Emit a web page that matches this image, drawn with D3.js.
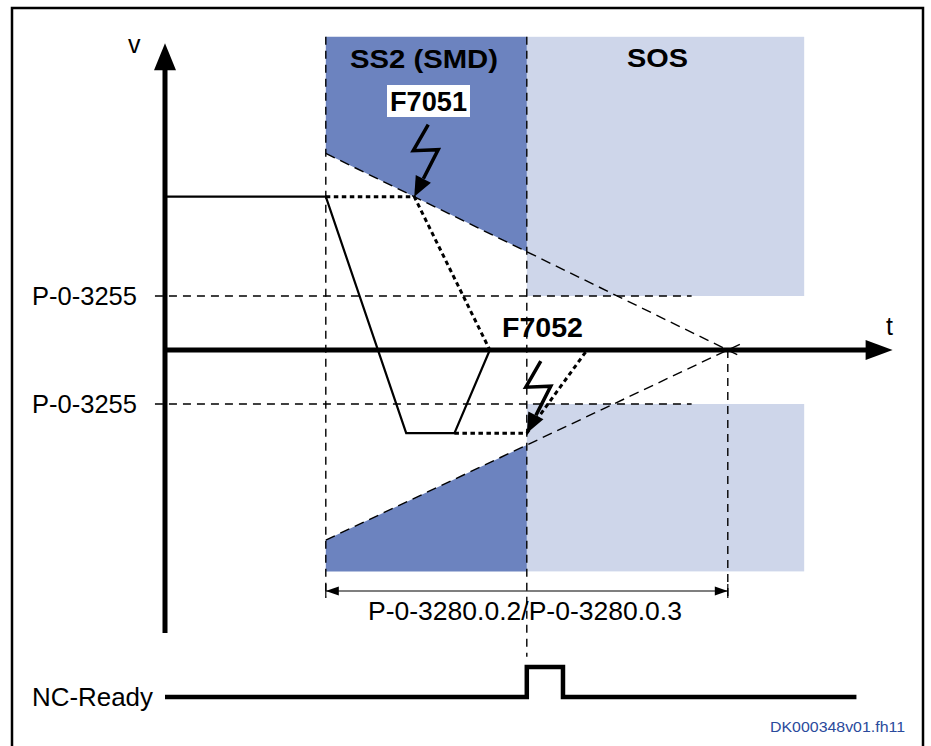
<!DOCTYPE html>
<html><head><meta charset="utf-8">
<script src="https://cdn.jsdelivr.net/npm/d3@7"></script>
<style>html,body{margin:0;padding:0;background:#fff;}svg{display:block;}</style>
</head><body>
<script>
// ---------- data (time units / velocity units) ----------
const phaseNames = ["SS2 (SMD)", "SOS"];
const phaseStart = [40, 90];
const phaseEnd = [90, 159];
const bandTopV = 290, bandBottomV = -205;
const thresholdLabels = ["P-0-3255", "P-0-3255"];
const thresholdV = [50, -50];
const thresholdT = [-2.5, 131];
const upperBand = [[40, 290], [90, 290], [90, 91], [40, 182]];
const lowerBand = [[40, -176], [90, -88], [90, -205], [40, -205]];
const upperEnvelope = [[40, 182], [143, -5.5]];
const lowerEnvelope = [[40, -176], [143, 5.3]];
const profile = [[0, 142], [40, 142], [60, -77], [72, -77], [80.8, 0]];
const expected1 = [[40, 142], [62, 142], [80.8, 0]];
const expected2 = [[72, -77], [90, -77], [105, 0]];
const faultNames = ["F7051", "F7052"];
const faultT = [62, 90];
const faultV = [142, -77];
const guideT = [40, 90, 140];
const guideFromV = [290, 290, 0];
const guideToV = [-229, -284, -229];
const dimT = [40, 140];
const dimLabel = "P-0-3280.0.2/P-0-3280.0.3";
const ncT = [0, 90, 90, 99, 99, 172];
const ncLevel = [0, 0, 1, 1, 0, 0];
const axisTMax = 181, axisVMax = 284, axisVMin = -262;

// ---------- layout ----------
const W = 931, H = 746;
const svg = d3.select("body").append("svg").attr("width", W).attr("height", H);
const x = d3.scaleLinear().domain([0, 180]).range([165, 165 + 180 * 4.02]);
const y = d3.scaleLinear().domain([-100, 100]).range([458, 242]);
const yNC = d3.scaleLinear().domain([0, 1]).range([697, 667]);
const DARK = "#6c83bf", LIGHT = "#ced6ea";
const FONT = "'Liberation Sans', Arial, Helvetica, sans-serif";
const line = d3.line().x(d => x(d[0])).y(d => y(d[1]));

// frame
svg.append("rect").attr("x", 12).attr("y", 8).attr("width", 911).attr("height", 780)
  .attr("fill", "none").attr("stroke", "#000").attr("stroke-width", 2.5);

// light SOS bands
[[thresholdV[0], bandTopV], [bandBottomV, thresholdV[1]]].forEach(([v0, v1]) => {
  svg.append("rect").attr("x", x(phaseStart[1])).attr("width", x(phaseEnd[1]) - x(phaseStart[1]))
    .attr("y", y(v1)).attr("height", y(v0) - y(v1)).attr("fill", LIGHT);
});
// dark SS2 polygons
[upperBand, lowerBand].forEach(p => {
  svg.append("path").attr("d", line(p) + "Z").attr("fill", DARK);
});

// thin dashed guides
const g = svg.append("g").attr("stroke", "#000").attr("stroke-width", 1.4).attr("fill", "none");
thresholdV.forEach(v => g.append("line").attr("x1", x(thresholdT[0])).attr("x2", x(thresholdT[1]))
  .attr("y1", y(v)).attr("y2", y(v)).attr("stroke-dasharray", "8,6"));
guideT.forEach((t, i) => g.append("line").attr("x1", x(t)).attr("x2", x(t))
  .attr("y1", y(guideFromV[i])).attr("y2", y(guideToV[i])).attr("stroke-dasharray", "8,6"));
[upperEnvelope, lowerEnvelope].forEach(p => g.append("path").attr("d", line(p)).attr("stroke-dasharray", "10,6"));

// speed profile
svg.append("path").attr("d", line(profile)).attr("fill", "none").attr("stroke", "#000")
  .attr("stroke-width", 2.2).attr("stroke-linejoin", "miter");
[expected1, expected2].forEach(p => svg.append("path").attr("d", line(p)).attr("fill", "none")
  .attr("stroke", "#000").attr("stroke-width", 3).attr("stroke-dasharray", "4.5,3.5"));

// axes
svg.append("line").attr("x1", x(0)).attr("x2", x(0)).attr("y1", y(axisVMin)).attr("y2", y(axisVMax) + 20)
  .attr("stroke", "#000").attr("stroke-width", 5);
svg.append("path").attr("d", `M${x(0)},${y(axisVMax)} L${x(0) - 11},${y(axisVMax) + 27} L${x(0) + 11},${y(axisVMax) + 27}Z`).attr("fill", "#000");
svg.append("line").attr("x1", x(0)).attr("x2", x(axisTMax) - 20).attr("y1", y(0)).attr("y2", y(0))
  .attr("stroke", "#000").attr("stroke-width", 5);
svg.append("path").attr("d", `M${x(axisTMax)},${y(0)} L${x(axisTMax) - 27},${y(0) - 10} L${x(axisTMax) - 27},${y(0) + 10}Z`).attr("fill", "#000");
svg.append("text").attr("x", 128).attr("y", 53).attr("font-family", FONT).attr("font-size", 25).text("v");
svg.append("text").attr("x", 886).attr("y", 335).attr("font-family", FONT).attr("font-size", 25).text("t");

// threshold labels
thresholdV.forEach((v, i) => svg.append("text").attr("x", 32).attr("y", y(v) + 9)
  .attr("font-family", FONT).attr("font-size", 25).attr("textLength", 105)
  .attr("lengthAdjust", "spacingAndGlyphs").text(thresholdLabels[i]));

// phase labels
svg.append("text").attr("x", 350).attr("y", 68).attr("font-family", FONT).attr("font-weight", "bold")
  .attr("font-size", 25).attr("textLength", 148).attr("lengthAdjust", "spacingAndGlyphs").text(phaseNames[0]);
svg.append("text").attr("x", 627).attr("y", 67).attr("font-family", FONT).attr("font-weight", "bold")
  .attr("font-size", 25).attr("textLength", 61).attr("lengthAdjust", "spacingAndGlyphs").text(phaseNames[1]);

// lightning bolts
faultT.forEach((t, i) => {
  const tx = x(t), ty = y(faultV[i]);
  const s = [tx + 14, ty - 72], p1 = [tx - 1, ty - 46], p2 = [tx + 24, ty - 47];
  const dx = tx - p2[0], dy = ty - p2[1], len = Math.hypot(dx, dy), ux = dx / len, uy = dy / len;
  const bx = tx - ux * 20, by = ty - uy * 20;
  svg.append("path").attr("d", `M${s}L${p1}L${p2}L${bx},${by}`).attr("fill", "none")
    .attr("stroke", "#000").attr("stroke-width", 3.5).attr("stroke-linejoin", "miter");
  svg.append("path").attr("d", `M${tx},${ty}L${bx - uy * 8.5},${by + ux * 8.5}L${bx + uy * 8.5},${by - ux * 8.5}Z`).attr("fill", "#000");
});
// fault labels
svg.append("rect").attr("x", 387).attr("y", 85).attr("width", 83).attr("height", 32).attr("fill", "#fff");
svg.append("text").attr("x", 428.5).attr("y", 111).attr("text-anchor", "middle").attr("font-family", FONT)
  .attr("font-weight", "bold").attr("font-size", 28).attr("textLength", 77).attr("lengthAdjust", "spacingAndGlyphs").text(faultNames[0]);
svg.append("text").attr("x", 542.5).attr("y", 337).attr("text-anchor", "middle").attr("font-family", FONT)
  .attr("font-weight", "bold").attr("font-size", 28).attr("textLength", 81).attr("lengthAdjust", "spacingAndGlyphs").text(faultNames[1]);

// dimension line
const dy0 = 591;
svg.append("line").attr("x1", x(dimT[0])).attr("x2", x(dimT[1])).attr("y1", dy0).attr("y2", dy0)
  .attr("stroke", "#000").attr("stroke-width", 1.2);
svg.append("path").attr("d", `M${x(dimT[0])},${dy0}L${x(dimT[0]) + 13},${dy0 - 4.5}L${x(dimT[0]) + 13},${dy0 + 4.5}Z`).attr("fill", "#000");
svg.append("path").attr("d", `M${x(dimT[1])},${dy0}L${x(dimT[1]) - 13},${dy0 - 4.5}L${x(dimT[1]) - 13},${dy0 + 4.5}Z`).attr("fill", "#000");
dimT.forEach(t => svg.append("line").attr("x1", x(t)).attr("x2", x(t)).attr("y1", dy0 - 7).attr("y2", dy0 + 7)
  .attr("stroke", "#000").attr("stroke-width", 1.2));
svg.append("text").attr("x", 368).attr("y", 620).attr("font-family", FONT).attr("font-size", 25)
  .attr("textLength", 314).attr("lengthAdjust", "spacingAndGlyphs").text(dimLabel);

// NC-Ready signal
svg.append("path").attr("d", d3.line().x((d, i) => x(ncT[i])).y(d => yNC(d))(ncLevel))
  .attr("fill", "none").attr("stroke", "#000").attr("stroke-width", 4.5).attr("stroke-linejoin", "miter");
svg.append("text").attr("x", 32).attr("y", 706).attr("font-family", FONT).attr("font-size", 26)
  .attr("textLength", 121).attr("lengthAdjust", "spacingAndGlyphs").text("NC-Ready");

svg.append("text").attr("x", 770).attr("y", 732).attr("font-family", FONT).attr("font-size", 14)
  .attr("fill", "#2a4a9c").attr("textLength", 135).attr("lengthAdjust", "spacingAndGlyphs").text("DK000348v01.fh11");
</script>
</body></html>
